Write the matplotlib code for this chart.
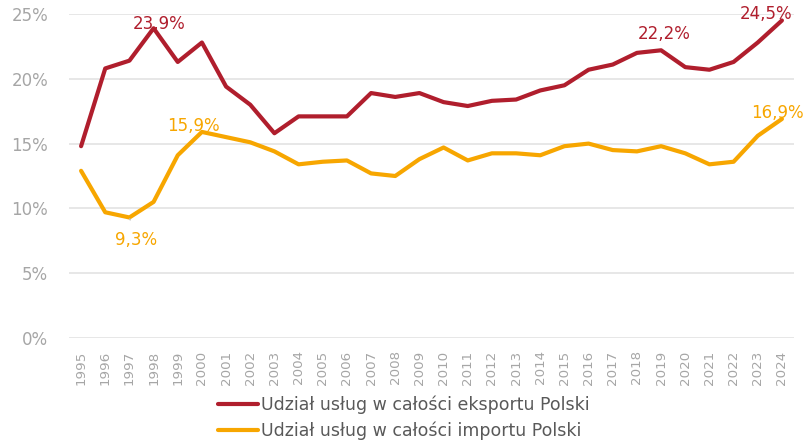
import numpy as np
import matplotlib
matplotlib.use("Agg")
import matplotlib.pyplot as plt
from matplotlib.ticker import FuncFormatter

plt.rcParams["font.family"] = ["DejaVu Sans"]

years = [str(y) for y in range(1995, 2025)]
export_share = [14.8, 20.8, 21.4, 23.9, 21.3, 22.8, 19.4, 18.0, 15.8, 17.1,
                17.1, 17.1, 18.9, 18.6, 18.9, 18.2, 17.9, 18.3, 18.4, 19.1,
                19.5, 20.7, 21.1, 22.0, 22.2, 20.9, 20.7, 21.3, 22.8, 24.5]
import_share = [12.9, 9.7, 9.3, 10.5, 14.1, 15.9, 15.5, 15.1, 14.4, 13.4,
                13.6, 13.7, 12.7, 12.5, 13.8, 14.7, 13.7, 14.25, 14.25, 14.1,
                14.8, 15.0, 14.5, 14.4, 14.8, 14.25, 13.4, 13.6, 15.6, 16.9]
series_labels = ["Udział usług w całości eksportu Polski",
                 "Udział usług w całości importu Polski"]

red = "#B01E2D"
orange = "#F7A600"
gray = "#A6A6A6"

fig = plt.figure(figsize=(8.04, 4.41), dpi=100)
ax = fig.add_axes([69 / 804, (441 - 338) / 441, (794 - 69) / 804, (338 - 14) / 441])

x = np.arange(len(years))
ax.plot(x, export_share, color=red, lw=3, solid_capstyle="round",
        solid_joinstyle="round", label=series_labels[0])
ax.plot(x, import_share, color=orange, lw=3, solid_capstyle="round",
        solid_joinstyle="round", label=series_labels[1])

ax.set_xlim(-0.5, len(years) - 0.5)
ax.set_ylim(0, 25)
ax.set_yticks([0, 5, 10, 15, 20, 25])
ax.yaxis.set_major_formatter(FuncFormatter(lambda v, p: f"{v:.0f}%"))
ax.set_xticks(x)
ax.set_xticklabels(years, rotation=90)
ax.grid(axis="y", color="#E3E3E3", lw=1.2)
ax.set_axisbelow(True)
for s in ax.spines.values():
    s.set_visible(False)
ax.tick_params(axis="both", length=0, colors=gray)
ax.tick_params(axis="y", pad=15, labelsize=12)
ax.tick_params(axis="x", pad=9, labelsize=9.6)

def fmt(v):
    return f"{v:.1f}%".replace(".", ",")

# data labels (offsets in points)
lab = dict(fontsize=12, ha="center", va="center", textcoords="offset points",
           annotation_clip=False)
ax.annotate(fmt(export_share[3]), (3, export_share[3]), xytext=(4, 3), color=red, **lab)
ax.annotate(fmt(export_share[24]), (24, export_share[24]), xytext=(2, 12), color=red, **lab)
ax.annotate(fmt(export_share[29]), (29, export_share[29]), xytext=(-11.5, 5), color=red, **lab)
ax.annotate(fmt(import_share[5]), (5, import_share[5]), xytext=(-6, 4.5), color=orange, **lab)
ax.annotate(fmt(import_share[29]), (29, import_share[29]), xytext=(-3, 4.5), color=orange, **lab)
ax.annotate(fmt(import_share[2]), (2, import_share[2]), xytext=(5, -16), color=orange,
            arrowprops=dict(arrowstyle="-", color="#BFBFBF", lw=1, shrinkA=6, shrinkB=1),
            **lab)

fig.legend(loc="upper left", bbox_to_anchor=(218 / 804, 1 - 396 / 441),
           frameon=False, fontsize=12.5, labelcolor="#595959",
           handlelength=2.3, handletextpad=0.15, labelspacing=0.4,
           borderaxespad=0, borderpad=0)

fig.savefig("out.png", dpi=100)
